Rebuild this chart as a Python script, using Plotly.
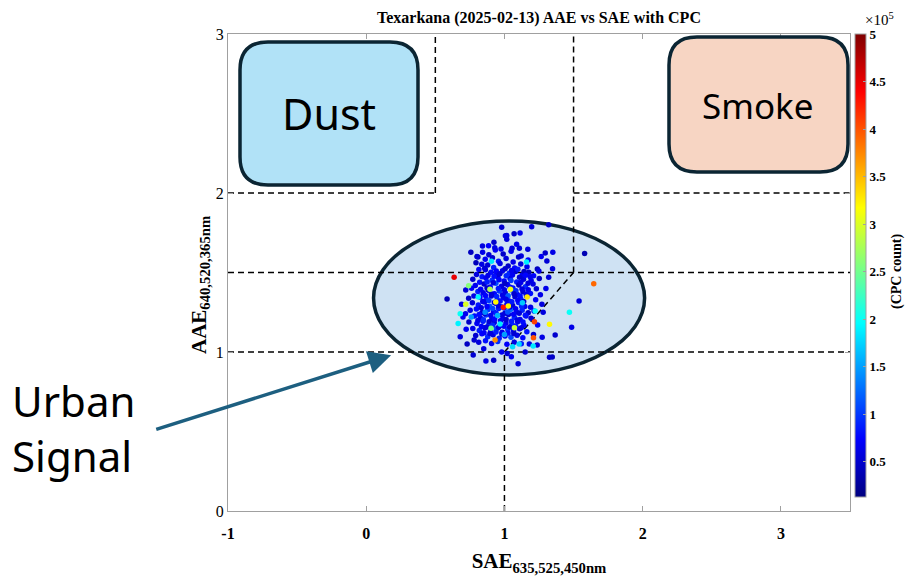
import plotly.graph_objects as go

# ---------------- data ----------------
core_sae = [
    0.842, 0.887, 0.934, 0.991, 1.048, 1.121, 0.808,
    0.861, 0.913, 0.957, 1.012, 1.063, 1.102, 1.171, 0.794, 0.836,
    0.879, 0.922, 0.968, 1.027, 1.074, 1.118, 1.163, 1.238, 0.815, 0.857,
    0.903, 0.944, 0.986, 1.035, 1.081, 1.129, 1.176, 1.211, 0.798, 0.838,
    0.771, 0.866, 0.911, 0.952, 0.998, 1.041, 1.089, 1.138, 1.193, 1.252, 0.821,
    0.789, 0.853, 0.897, 0.938, 0.979, 1.022, 1.061, 1.104, 1.152, 1.207, 1.231, 0.762,
    0.808, 0.846, 0.884, 0.927, 0.963, 1.006, 1.047, 1.093, 1.134, 1.188, 0.779,
    0.741, 0.823, 0.869, 0.905, 0.948, 0.992, 1.031, 1.076, 1.118, 1.161, 1.226,
    0.768, 0.811, 0.856, 0.893, 0.936, 0.977, 1.018, 1.059, 1.102, 1.147, 1.271,
    0.752, 0.797, 0.838, 0.879, 0.921, 0.958, 1.003, 1.044, 1.087, 1.128, 1.172, 1.214, 0.718,
    0.783, 0.826, 0.866, 0.909, 0.947, 0.989, 1.029, 1.072, 1.113, 1.156, 1.193,
    0.743, 0.801, 0.845, 0.887, 0.926, 0.969, 1.011, 1.054, 1.096, 1.141,
    0.771, 0.818, 0.858, 0.901, 0.941, 0.983, 1.024, 1.066, 1.109, 1.162,
    0.792, 0.837, 0.879, 0.918, 0.962, 1.004, 1.047, 1.091, 1.133,
    0.814, 0.863, 0.907, 0.951, 1.018, 1.071, 1.122,
]
core_aae = [
    1.628, 1.611, 1.642, 1.617, 1.633, 1.604, 1.598,
    1.583, 1.592, 1.571, 1.588, 1.566, 1.597, 1.578, 1.561, 1.552,
    1.547, 1.531, 1.556, 1.541, 1.528, 1.553, 1.536, 1.522, 1.519, 1.526,
    1.502, 1.489, 1.511, 1.495, 1.507, 1.484, 1.501, 1.479, 1.487, 1.473,
    1.458, 1.466, 1.451, 1.472, 1.447, 1.463, 1.441, 1.457, 1.449, 1.462, 1.438,
    1.418, 1.427, 1.409, 1.432, 1.414, 1.425, 1.403, 1.421, 1.411, 1.428, 1.398, 1.401,
    1.381, 1.372, 1.389, 1.366, 1.384, 1.371, 1.392, 1.362, 1.379, 1.368, 1.352,
    1.338, 1.346, 1.331, 1.352, 1.327, 1.343, 1.322, 1.348, 1.333, 1.351, 1.329,
    1.309, 1.296, 1.314, 1.288, 1.306, 1.284, 1.301, 1.292, 1.311, 1.286, 1.301,
    1.262, 1.271, 1.249, 1.266, 1.253, 1.274, 1.244, 1.268, 1.251, 1.263, 1.247, 1.258, 1.241,
    1.226, 1.214, 1.233, 1.207, 1.229, 1.211, 1.236, 1.218, 1.204, 1.227, 1.212,
    1.188, 1.179, 1.194, 1.171, 1.186, 1.165, 1.183, 1.174, 1.191, 1.168,
    1.148, 1.136, 1.153, 1.129, 1.144, 1.124, 1.141, 1.133, 1.147, 1.128,
    1.103, 1.114, 1.096, 1.109, 1.087, 1.101, 1.092, 1.106, 1.089,
    1.062, 1.071, 1.053, 1.066, 1.048, 1.061, 1.052,
]
core_cpc = [
    62000, 55000, 71000, 48000, 66000, 58000, 44000,
    69000, 52000, 81000, 57000, 63000, 49000, 72000, 41000, 60000,
    54000, 88000, 61000, 47000, 76000, 59000, 65000, 43000, 70000, 53000,
    78000, 56000, 64000, 92000, 51000, 68000, 46000, 74000, 58000, 83000,
    49000, 67000, 95000, 54000, 72000, 61000, 86000, 57000, 63000, 45000, 79000,
    66000, 52000, 75000, 110000, 58000, 69000, 84000, 47000, 93000, 61000, 55000, 71000,
    87000, 64000, 53000, 76000, 98000, 59000, 120000, 68000, 52000, 81000, 62000,
    48000, 73000, 91000, 57000, 105000, 66000, 79000, 54000, 88000, 60000, 71000,
    56000, 82000, 64000, 115000, 59000, 94000, 72000, 49000, 86000, 67000, 58000,
    61000, 77000, 53000, 99000, 68000, 84000, 57000, 125000, 63000, 90000, 51000, 74000, 66000,
    80000, 58000, 96000, 62000, 118000, 71000, 55000, 89000, 64000, 76000, 52000,
    47000, 69000, 85000, 103000, 59000, 78000, 66000, 94000, 57000, 73000,
    64000, 88000, 55000, 79000, 112000, 62000, 97000, 70000, 58000, 83000,
    51000, 74000, 92000, 60000, 85000, 68000, 108000, 63000, 76000,
    57000, 81000, 66000, 95000, 72000, 59000, 87000,
]

fill_sae = [
    0.862, 0.941, 1.005, 1.052, 1.097, 1.142,
    0.881, 0.925, 0.967, 1.013, 1.058, 1.109, 1.153,
    0.875, 0.919, 0.961, 1.003, 1.047, 1.118, 1.171,
    0.828, 0.874, 0.956, 0.999, 1.041, 1.083, 1.127, 1.172,
    0.862, 0.905, 0.944, 0.986, 1.027, 1.069, 1.113, 1.158,
    0.843, 0.887, 0.927, 0.969, 1.011, 1.053, 1.097, 1.139,
    0.832, 0.874, 0.915, 0.957, 0.998, 1.039, 1.081, 1.124, 1.189,
    0.817, 0.858, 0.901, 0.939, 0.982, 1.024, 1.066, 1.107, 1.151,
    0.808, 0.848, 0.889, 0.929, 0.971, 1.012, 1.051, 1.093, 1.134,
    0.833, 0.873, 0.915, 0.956, 0.997, 1.038, 1.081, 1.122,
    0.852, 0.895, 0.939, 0.981, 1.026, 1.068,
]
fill_aae = [
    1.517, 1.509, 1.524, 1.513, 1.520, 1.506,
    1.481, 1.476, 1.492, 1.479, 1.485, 1.470, 1.483,
    1.441, 1.436, 1.455, 1.431, 1.449, 1.437, 1.433,
    1.394, 1.402, 1.399, 1.391, 1.408, 1.386, 1.397, 1.391,
    1.356, 1.364, 1.349, 1.359, 1.354, 1.366, 1.352, 1.361,
    1.317, 1.324, 1.312, 1.321, 1.331, 1.316, 1.326, 1.318,
    1.279, 1.286, 1.274, 1.291, 1.276, 1.283, 1.272, 1.287, 1.281,
    1.236, 1.242, 1.229, 1.246, 1.233, 1.251, 1.238, 1.244, 1.231,
    1.198, 1.203, 1.191, 1.208, 1.196, 1.204, 1.193, 1.202, 1.189,
    1.161, 1.158, 1.169, 1.154, 1.162, 1.157, 1.164, 1.153,
    1.121, 1.117, 1.126, 1.113, 1.119, 1.116,
]
fill_cpc = [
    58000, 73000, 51000, 66000, 84000, 47000,
    62000, 79000, 55000, 91000, 68000, 53000, 75000,
    87000, 59000, 72000, 48000, 101000, 64000, 57000,
    69000, 52000, 83000, 61000, 76000, 94000, 58000, 66000,
    74000, 56000, 89000, 63000, 117000, 51000, 79000, 60000,
    65000, 98000, 54000, 77000, 62000, 85000, 71000, 49000,
    58000, 72000, 106000, 61000, 83000, 55000, 68000, 92000, 64000,
    77000, 53000, 66000, 88000, 59000, 113000, 70000, 57000, 81000,
    62000, 95000, 56000, 74000, 67000, 52000, 86000, 60000, 78000,
    69000, 58000, 91000, 64000, 76000, 54000, 83000, 61000,
    72000, 57000, 88000, 65000, 79000, 53000,
]

outer_sae = [
    0.980, 1.197, 1.017, 1.070, 1.113, 1.017, 0.757, 0.841, 0.885, 0.924,
    1.088, 1.169, 1.295, 1.350, 1.266, 1.307, 1.348, 1.580, 1.540, 1.486,
    1.367, 1.346, 0.585, 0.680, 0.774, 0.866, 0.922, 1.099, 1.050, 1.150,
    0.700, 0.690, 0.720, 1.300, 1.280, 1.240, 1.210, 1.180, 0.980, 1.020,
    0.850, 0.730, 1.260, 1.320, 0.723, 0.781, 1.273, 1.237, 1.326, 0.975,
    1.055, 0.930, 1.320, 1.108, 1.249, 1.186, 0.801, 1.007,
]
outer_aae = [
    1.784, 1.788, 1.732, 1.744, 1.748, 1.709, 1.627, 1.666, 1.668, 1.690,
    1.677, 1.646, 1.623, 1.627, 1.600, 1.572, 1.524, 1.620, 1.320, 1.155,
    1.107, 0.969, 1.333, 1.096, 0.981, 0.943, 0.948, 0.926, 0.970, 1.000,
    1.220, 1.300, 1.390, 1.400, 1.250, 1.170, 1.110, 1.050, 1.000, 0.990,
    1.020, 1.050, 1.360, 1.470, 1.143, 1.075, 1.092, 1.044, 0.967, 1.648,
    1.652, 1.655, 1.800, 1.652, 1.509, 1.474, 1.600, 1.731,
]
outer_cpc = [
    52000, 58000, 61000, 47000, 66000, 55000, 43000, 59000, 72000, 50000,
    64000, 57000, 49000, 62000, 68000, 54000, 60000, 38000, 56000, 63000,
    51000, 46000, 40000, 58000, 53000, 61000, 48000, 57000, 66000, 52000,
    70000, 62000, 55000, 64000, 58000, 73000, 49000, 60000, 67000, 54000,
    59000, 45000, 63000, 56000, 68000, 52000, 61000, 57000, 50000, 65000,
    58000, 62000, 48000, 55000, 60000, 66000, 53000, 59000,
]

color_sae = [0.636, 1.646, 1.470, 1.326, 0.665, 1.210, 0.932, 0.992, 0.937, 1.043,
             0.895, 1.164, 0.741, 0.810, 1.028, 1.072, 0.903, 1.059, 1.106, 1.208,
             1.222, 0.968, 1.160, 0.906, 1.217, 0.760, 0.860, 1.000, 0.950, 0.720,
             0.680, 1.130]
color_aae = [1.470, 1.430, 1.250, 1.174, 1.180, 1.090, 1.075, 1.281, 1.314, 1.394,
             1.394, 1.346, 1.417, 1.346, 1.289, 1.153, 1.149, 1.033, 1.050, 1.038,
             1.258, 1.176, 1.566, 1.570, 1.190, 1.220, 1.250, 1.110, 1.230, 1.300,
             1.240, 1.310]
color_cpc = [450000, 390000, 200000, 320000, 190000, 400000, 370000, 430000, 320000, 310000,
             280000, 330000, 260000, 190000, 320000, 290000, 250000, 180000, 175000, 185000,
             195000, 185000, 190000, 185000, 410000, 150000, 140000, 150000, 160000, 300000,
             200000, 170000]

cb_ticks = [50000, 100000, 150000, 200000, 250000, 300000, 350000, 400000, 450000, 500000]
cb_labels = ["0.5", "1", "1.5", "2", "2.5", "3", "3.5", "4", "4.5", "5"]
x_ticks = [-1, 0, 1, 2, 3]
x_labels = ["-1", "0", "1", "2", "3"]
y_ticks = [0, 1, 2, 3]

# ---------------- layout geometry (screen pixels; body margin removed by post_script) ----------------
W, H = 907, 584
PLOT_L, PLOT_T, PLOT_R, PLOT_B = 228, 34, 850, 511      # plot area on screen
L, T = PLOT_L, PLOT_T
PW, PH = PLOT_R - PLOT_L, PLOT_B - PLOT_T
R, B = W - L - PW, H - T - PH


def px(xp):
    return (xp - PLOT_L) / PW


def py(yp):
    return (PLOT_B - yp) / PH


def rrect(x0, y0, x1, y1, r):
    X = lambda v: f"{px(v):.5f}"
    Y = lambda v: f"{py(v):.5f}"
    return (f"M{X(x0 + r)},{Y(y0)} L{X(x1 - r)},{Y(y0)} Q{X(x1)},{Y(y0)} {X(x1)},{Y(y0 + r)} "
            f"L{X(x1)},{Y(y1 - r)} Q{X(x1)},{Y(y1)} {X(x1 - r)},{Y(y1)} "
            f"L{X(x0 + r)},{Y(y1)} Q{X(x0)},{Y(y1)} {X(x0)},{Y(y1 - r)} "
            f"L{X(x0)},{Y(y0 + r)} Q{X(x0)},{Y(y0)} {X(x0 + r)},{Y(y0)} Z")


jet = [[0.0, "rgb(0,0,128)"], [0.125, "rgb(0,0,255)"], [0.375, "rgb(0,255,255)"],
       [0.625, "rgb(255,255,0)"], [0.875, "rgb(255,0,0)"], [1.0, "rgb(128,0,0)"]]

CMIN, CMAX = 13000, 500000
serif = "Liberation Serif"

all_sae = core_sae + fill_sae + outer_sae + color_sae
all_aae = core_aae + fill_aae + outer_aae + color_aae
all_cpc = core_cpc + fill_cpc + outer_cpc + color_cpc

fig = go.Figure()
fig.add_trace(go.Scatter(
    x=all_sae, y=all_aae, mode="markers", showlegend=False,
    marker=dict(size=5.5, color=all_cpc, colorscale=jet, cmin=CMIN, cmax=CMAX,
                line=dict(width=0),
                colorbar=dict(
                    x=px(855), xanchor="left", xpad=0, y=1.0, yanchor="top", ypad=0,
                    len=(497 - 34) / PH, lenmode="fraction", thickness=11,
                    outlinewidth=1, outlinecolor="#a0a0a0",
                    tickvals=cb_ticks, ticktext=cb_labels,
                    ticks="inside", ticklen=3, tickcolor="#a0a0a0",
                    tickfont=dict(family=serif, size=13, color="black", weight="bold"),
                )),
))

shapes = []
shapes.append(dict(type="circle", xref="x", yref="y", x0=0.053, x1=2.014, y0=0.855, y1=1.824,
                   fillcolor="#cfe2f3", line=dict(color="#0b2533", width=3.5), layer="below"))
dash_segments = [((0.5, 2), (0.5, 3)), ((-1, 2), (0.5, 2)), ((1.5, 1.5), (1.5, 3)),
                 ((1.5, 2), (3.5, 2)), ((-1, 1.5), (3.5, 1.5)), ((-1, 1), (3.5, 1)),
                 ((1, 0), (1, 1)), ((1, 1), (1.5, 1.5))]
for (a, b) in dash_segments:
    shapes.append(dict(type="line", xref="x", yref="y", x0=a[0], y0=a[1], x1=b[0], y1=b[1],
                       line=dict(color="black", width=1.5, dash="6px,4px"), layer="below"))
shapes.append(dict(type="path", xref="paper", yref="paper", path=rrect(240, 42, 418, 185, 28),
                   fillcolor="#b1e2f7", line=dict(color="#0b2533", width=3.5), layer="above"))
shapes.append(dict(type="path", xref="paper", yref="paper", path=rrect(669, 37, 848, 172, 28),
                   fillcolor="#f7d5c3", line=dict(color="#0b2533", width=3.5), layer="above"))

annotations = [
    dict(xref="paper", yref="paper", x=px(329), y=py(113), text="Dust", showarrow=False,
         font=dict(family="Noto Sans", size=43, color="black"), xanchor="center", yanchor="middle"),
    dict(xref="paper", yref="paper", x=px(758), y=py(105), text="Smoke", showarrow=False,
         font=dict(family="Noto Sans", size=35, color="black"), xanchor="center", yanchor="middle"),
    dict(xref="paper", yref="paper", x=px(10), y=py(428), text="Urban<br>Signal", showarrow=False,
         align="left", font=dict(family="Noto Sans", size=42, color="black"),
         xanchor="left", yanchor="middle"),
    dict(xref="x", yref="y", axref="x", ayref="y",
         x=0.18, y=0.98, ax=-1.53, ay=0.51, text="", showarrow=True,
         arrowhead=2, arrowsize=1.3, arrowwidth=3.5, arrowcolor="#1d5f80"),
    dict(xref="paper", yref="paper", x=px(863), y=py(30), text="×10<sup>5</sup>", showarrow=False,
         xanchor="left", yanchor="bottom", font=dict(family=serif, size=15, color="black")),
    dict(xref="paper", yref="paper", x=px(897), y=py(272), text="<b>(CPC count)</b>",
         showarrow=False, textangle=-90, xanchor="center", yanchor="middle", borderpad=0,
         font=dict(family=serif, size=14, color="black")),
    dict(xref="paper", yref="paper", x=px(200), y=py(285),
         text="<b>AAE<sub>640,520,365nm</sub></b>", showarrow=False, textangle=-90,
         xanchor="center", yanchor="middle", font=dict(family=serif, size=21, color="black")),
]

axis_common = dict(showgrid=False, zeroline=False, showline=True, linecolor="#a0a0a0",
                   linewidth=1, mirror="ticks", ticks="inside", ticklen=5, tickcolor="#a0a0a0")

fig.update_layout(
    width=W, height=H, margin=dict(l=L, r=R, t=T, b=B, autoexpand=False),
    paper_bgcolor="white", plot_bgcolor="white",
    title=dict(text="<b>Texarkana (2025-02-13) AAE vs SAE with CPC</b>", x=539 / W,
               xanchor="center", y=1 - 17 / H, yanchor="middle",
               font=dict(family=serif, size=16, color="black")),
    xaxis=dict(range=[-1, 3.5], tickvals=x_ticks, ticktext=x_labels, **axis_common,
               ticklabelstandoff=8,
               tickfont=dict(family=serif, size=16, color="black", weight="bold"),
               title=dict(text="<b>SAE<sub>635,525,450nm</sub></b>", standoff=12,
                          font=dict(family=serif, size=21, color="black"))),
    yaxis=dict(range=[0, 3], tickvals=y_ticks, **axis_common,
               tickfont=dict(family=serif, size=16, color="black")),
    shapes=shapes, annotations=annotations,
)

fig.write_html("out.html", config={"displayModeBar": False},
               post_script="document.body.style.margin='0px';document.body.style.overflow='hidden';")
